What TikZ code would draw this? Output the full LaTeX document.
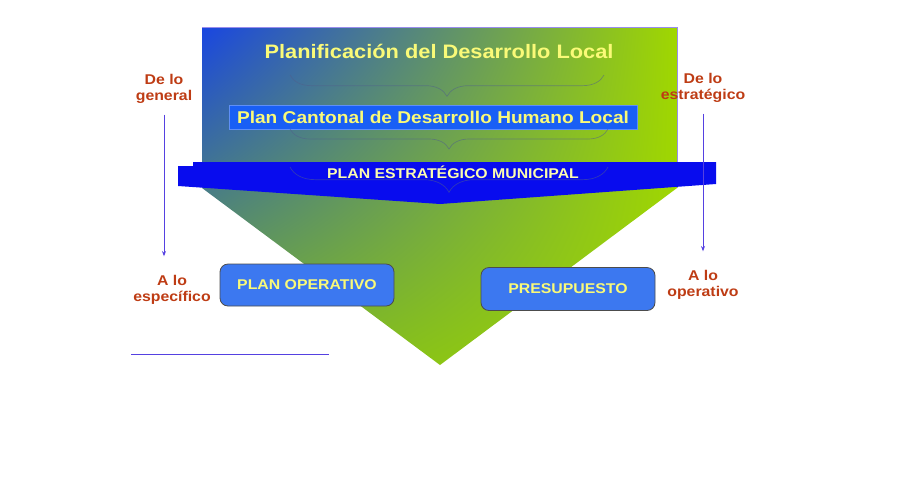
\documentclass[tikz,border=0pt]{standalone}
\usepackage{fontspec}
\setmainfont{Liberation Sans}
\newfontfamily\widesans[FakeStretch=1.12]{Liberation Sans}
\usetikzlibrary{arrows.meta,positioning,decorations.pathreplacing,shadings}
\definecolor{topblue}{RGB}{25,70,225}
\definecolor{lime}{RGB}{160,215,0}
\definecolor{midgreen}{RGB}{120,180,40}
\definecolor{bannerblue}{RGB}{8,12,238}
\definecolor{boxblue}{RGB}{60,120,240}
\definecolor{cantblue}{RGB}{25,95,245}
\definecolor{txtyellow}{RGB}{250,250,120}
\definecolor{rust}{RGB}{190,60,20}
\definecolor{violet}{RGB}{85,65,225}
\definecolor{bracegray}{RGB}{80,95,140}

\begin{document}
\begin{tikzpicture}[x=0.75pt,y=-0.75pt,
sidelabel/.style={text=rust,font=\widesans\bfseries\fontsize{10.6}{11.6}\selectfont,align=center},
sidearrow/.style={draw=violet,line width=0.6pt,-{Stealth[length=4pt,width=3pt]},
shorten <=5pt,shorten >=11pt},
planbox/.style={rounded corners=6pt,fill=boxblue,draw=black!70,line width=0.6pt,
text=txtyellow,font=\widesans\bfseries\fontsize{10.6}{12}\selectfont},
bracedeco/.style={draw=bracegray,opacity=0.55,line width=0.5pt,
decorate,decoration={brace,amplitude=#1}}]
\useasboundingbox (0,0) rectangle (907,501);

% big arrow
\shade[upper left=topblue,upper right=lime,lower left=midgreen,lower right=lime]
(202,27) -- (677,27) -- (677,188) -- (440,365) -- (202,188) -- cycle;
\draw[violet!60,line width=0.4pt] (202,27) -- (677,27) -- (677,188);

\node[text=txtyellow,font=\widesans\bfseries\fontsize{14.6}{16}\selectfont] (title) at (439,51)
{Planificación del Desarrollo Local};
\draw[bracedeco=16pt] (604,75) -- (290,75);

\node[fill=cantblue,draw=cantblue!70!white,line width=0.4pt,minimum width=408*0.75pt,
minimum height=24*0.75pt,inner sep=0pt,text=txtyellow,
font=\widesans\bfseries\fontsize{12.8}{14}\selectfont] (cantonal) at (433,117)
{Plan Cantonal de Desarrollo Humano Local};
\draw[bracedeco=15pt] (608,129) -- (290,129);

% banner
\fill[bannerblue] (178,166) -- (193,166) -- (193,162) -- (716,162) -- (716,184)
-- (440,204) -- (178,186) -- cycle;
\node[text=txtyellow!60!white,font=\widesans\bfseries\fontsize{10.6}{12}\selectfont] (pem) at (453,172)
{PLAN ESTRATÉGICO MUNICIPAL};
\draw[bracedeco=19pt] (608,167) -- (290,167);

\node[planbox,minimum width=174*0.75pt,minimum height=42*0.75pt] (operativo) at (307,285)
{PLAN OPERATIVO};
\node[planbox,minimum width=174*0.75pt,minimum height=43*0.75pt,
font=\widesans\bfseries\fontsize{10.6}{12}\selectfont] (presupuesto) at (568,289) {PRESUPUESTO};

% side labels
\node[sidelabel] (general) at (164,89) {De lo\\general};
\node[sidelabel] (especifico) at (172,290) {A lo\\específico};
\node[sidelabel] (estrategico) at (703,88) {De lo\\estratégico};
\node[sidelabel] (operativoLbl) at (703,285) {A lo\\operativo};

\draw[sidearrow] (general.south) -- (general.south |- especifico.north);
\draw[sidearrow] (estrategico.south) -- (estrategico.south |- operativoLbl.north);

\coordinate (lineL) at (131,354);
\coordinate (lineR) at (329,354);
\draw[violet,line width=0.6pt] (lineL) -- (lineR);
\end{tikzpicture}
\end{document}
